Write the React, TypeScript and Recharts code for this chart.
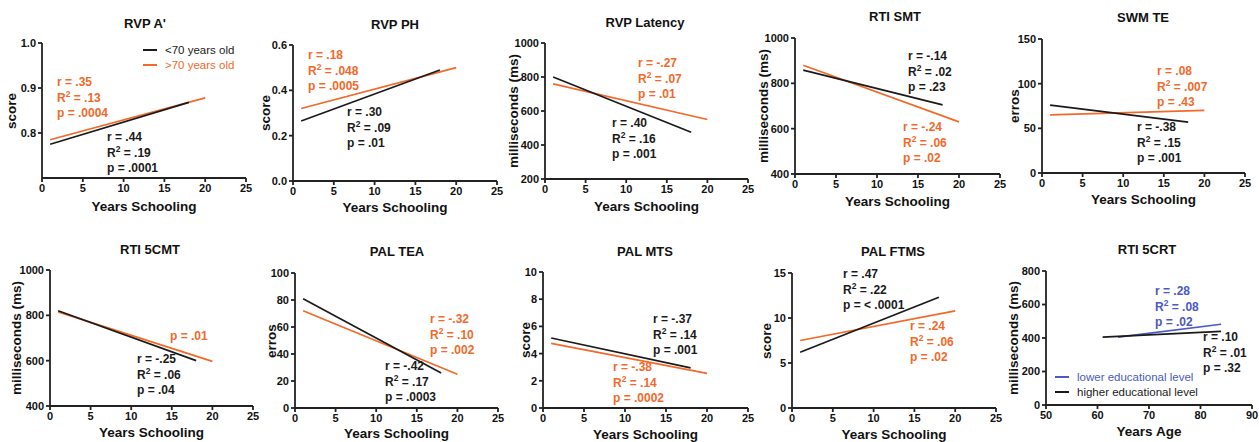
import React from 'react';
import { LineChart, Line, XAxis, YAxis } from 'recharts';

const FONT = '"Liberation Sans", Arial, Helvetica, sans-serif';
const ORANGE = '#f2692a';
const BLACK = '#1a1a1a';
const BLUE = '#4a59c4';

// x ranges of the regression lines
const youngX = [1, 18];
const oldX = [1, 20];
const lowerEduX = [64, 84];
const higherEduX = [61, 84];

// series end values (young = <70, old = >70)
const rvpAYoung = [0.775, 0.868];
const rvpAOld = [0.785, 0.878];
const rvpPhYoung = [0.265, 0.49];
const rvpPhOld = [0.32, 0.5];
const rvpLatYoung = [800, 475];
const rvpLatOld = [760, 550];
const smtYoung = [858, 705];
const smtOld = [880, 630];
const swmYoung = [76, 57];
const swmOld = [65, 70];
const cmtYoung = [820, 600];
const cmtOld = [815, 597];
const teaYoung = [81, 26];
const teaOld = [72, 25];
const mtsYoung = [5.15, 2.95];
const mtsOld = [4.75, 2.55];
const ftmsYoung = [6.2, 12.3];
const ftmsOld = [7.5, 10.8];
const crtLower = [405, 482];
const crtHigher = [405, 440];

const schoolTicks = [0, 5, 10, 15, 20, 25];
const ageTicks = [50, 60, 70, 80, 90];

const toPts = (xs: number[], ys: number[]) => xs.map((x, i) => ({ x, y: ys[i] }));

type Ann = { x: number; y: number; color: string; lines: string[] };

type PanelCfg = {
  title: string; titleX: number; titleY: number;
  x0: number; xEnd: number; yTop: number; yBot: number;
  xDomain: number[]; xTicks: number[]; yDomain: number[]; yTicks: number[];
  yFmt?: (v: number) => string;
  yLabel: string; yLabelX: number; xLabel: string; xLabelY: number;
  series: { pts: { x: number; y: number }[]; color: string }[];
  anns: Ann[];
};

const f1 = (v: number) => v.toFixed(1);

const panels: PanelCfg[] = [
  {
    title: "RVP A'", titleX: 145, titleY: 24, x0: 42, xEnd: 246, yTop: 43, yBot: 178,
    xDomain: [0, 25], xTicks: schoolTicks, yDomain: [0.7, 1.0], yTicks: [0.8, 0.9, 1.0], yFmt: f1,
    yLabel: 'score', yLabelX: 12, xLabel: 'Years Schooling', xLabelY: 207,
    series: [{ pts: toPts(oldX, rvpAOld), color: ORANGE }, { pts: toPts(youngX, rvpAYoung), color: BLACK }],
    anns: [
      { x: 57, y: 83, color: ORANGE, lines: ['r = .35', 'R2 = .13', 'p = .0004'] },
      { x: 107, y: 138, color: BLACK, lines: ['r = .44', 'R2 = .19', 'p = .0001'] },
    ],
  },
  {
    title: 'RVP PH', titleX: 395, titleY: 25, x0: 293, xEnd: 497, yTop: 45, yBot: 181,
    xDomain: [0, 25], xTicks: schoolTicks, yDomain: [0, 0.6], yTicks: [0, 0.2, 0.4, 0.6], yFmt: f1,
    yLabel: 'score', yLabelX: 266, xLabel: 'Years Schooling', xLabelY: 208,
    series: [{ pts: toPts(oldX, rvpPhOld), color: ORANGE }, { pts: toPts(youngX, rvpPhYoung), color: BLACK }],
    anns: [
      { x: 308, y: 56, color: ORANGE, lines: ['r = .18', 'R2 = .048', 'p = .0005'] },
      { x: 347, y: 113, color: BLACK, lines: ['r = .30', 'R2 = .09', 'p = .01'] },
    ],
  },
  {
    title: 'RVP Latency', titleX: 645, titleY: 23, x0: 545, xEnd: 748, yTop: 43, yBot: 179,
    xDomain: [0, 25], xTicks: schoolTicks, yDomain: [200, 1000], yTicks: [200, 400, 600, 800, 1000],
    yLabel: 'milliseconds (ms)', yLabelX: 514, xLabel: 'Years Schooling', xLabelY: 207,
    series: [{ pts: toPts(oldX, rvpLatOld), color: ORANGE }, { pts: toPts(youngX, rvpLatYoung), color: BLACK }],
    anns: [
      { x: 638, y: 64, color: ORANGE, lines: ['r = -.27', 'R2 = .07', 'p = .01'] },
      { x: 612, y: 124, color: BLACK, lines: ['r = .40', 'R2 = .16', 'p = .001'] },
    ],
  },
  {
    title: 'RTI SMT', titleX: 895, titleY: 17, x0: 795, xEnd: 1000, yTop: 38, yBot: 174,
    xDomain: [0, 25], xTicks: schoolTicks, yDomain: [400, 1000], yTicks: [400, 600, 800, 1000],
    yLabel: 'milliseconds (ms)', yLabelX: 764, xLabel: 'Years Schooling', xLabelY: 202,
    series: [{ pts: toPts(oldX, smtOld), color: ORANGE }, { pts: toPts(youngX, smtYoung), color: BLACK }],
    anns: [
      { x: 908, y: 57, color: BLACK, lines: ['r = -.14', 'R2 = .02', 'p = .23'] },
      { x: 903, y: 128, color: ORANGE, lines: ['r = -.24', 'R2 = .06', 'p = .02'] },
    ],
  },
  {
    title: 'SWM TE', titleX: 1143, titleY: 18, x0: 1042, xEnd: 1245, yTop: 39, yBot: 173,
    xDomain: [0, 25], xTicks: schoolTicks, yDomain: [0, 150], yTicks: [0, 50, 100, 150],
    yLabel: 'erros', yLabelX: 1015, xLabel: 'Years Schooling', xLabelY: 200,
    series: [{ pts: toPts(oldX, swmOld), color: ORANGE }, { pts: toPts(youngX, swmYoung), color: BLACK }],
    anns: [
      { x: 1157, y: 72, color: ORANGE, lines: ['r = .08', 'R2 = .007', 'p = .43'] },
      { x: 1137, y: 128, color: BLACK, lines: ['r = -.38', 'R2 = .15', 'p = .001'] },
    ],
  },
  {
    title: 'RTI 5CMT', titleX: 150, titleY: 250, x0: 50, xEnd: 253, yTop: 270, yBot: 406,
    xDomain: [0, 25], xTicks: schoolTicks, yDomain: [400, 1000], yTicks: [400, 600, 800, 1000],
    yLabel: 'milliseconds (ms)', yLabelX: 17, xLabel: 'Years Schooling', xLabelY: 433,
    series: [{ pts: toPts(oldX, cmtOld), color: ORANGE }, { pts: toPts(youngX, cmtYoung), color: BLACK }],
    anns: [
      { x: 170, y: 337, color: ORANGE, lines: ['p = .01'] },
      { x: 137, y: 360, color: BLACK, lines: ['r = -.25', 'R2 = .06', 'p = .04'] },
    ],
  },
  {
    title: 'PAL TEA', titleX: 397, titleY: 252, x0: 295, xEnd: 498, yTop: 273, yBot: 408,
    xDomain: [0, 25], xTicks: schoolTicks, yDomain: [0, 100], yTicks: [0, 20, 40, 60, 80, 100],
    yLabel: 'erros', yLabelX: 272, xLabel: 'Years Schooling', xLabelY: 434,
    series: [{ pts: toPts(oldX, teaOld), color: ORANGE }, { pts: toPts(youngX, teaYoung), color: BLACK }],
    anns: [
      { x: 430, y: 320, color: ORANGE, lines: ['r = -.32', 'R2 = .10', 'p = .002'] },
      { x: 385, y: 367, color: BLACK, lines: ['r = -.42', 'R2 = .17', 'p = .0003'] },
    ],
  },
  {
    title: 'PAL MTS', titleX: 645, titleY: 252, x0: 543, xEnd: 748, yTop: 272, yBot: 408,
    xDomain: [0, 25], xTicks: schoolTicks, yDomain: [0, 10], yTicks: [0, 2, 4, 6, 8, 10],
    yLabel: 'score', yLabelX: 526, xLabel: 'Years Schooling', xLabelY: 435,
    series: [{ pts: toPts(oldX, mtsOld), color: ORANGE }, { pts: toPts(youngX, mtsYoung), color: BLACK }],
    anns: [
      { x: 653, y: 320, color: BLACK, lines: ['r = -.37', 'R2 = .14', 'p = .001'] },
      { x: 613, y: 368, color: ORANGE, lines: ['r = -.38', 'R2 = .14', 'p = .0002'] },
    ],
  },
  {
    title: 'PAL FTMS', titleX: 893, titleY: 252, x0: 792, xEnd: 996, yTop: 273, yBot: 408,
    xDomain: [0, 25], xTicks: schoolTicks, yDomain: [0, 15], yTicks: [0, 5, 10, 15],
    yLabel: 'score', yLabelX: 767, xLabel: 'Years Schooling', xLabelY: 435,
    series: [{ pts: toPts(oldX, ftmsOld), color: ORANGE }, { pts: toPts(youngX, ftmsYoung), color: BLACK }],
    anns: [
      { x: 843, y: 275, color: BLACK, lines: ['r = .47', 'R2 = .22', 'p = < .0001'] },
      { x: 910, y: 327, color: ORANGE, lines: ['r = .24', 'R2 = .06', 'p = .02'] },
    ],
  },
  {
    title: 'RTI 5CRT', titleX: 1147, titleY: 250, x0: 1046, xEnd: 1252, yTop: 271, yBot: 405,
    xDomain: [50, 90], xTicks: ageTicks, yDomain: [0, 800], yTicks: [0, 200, 400, 600, 800],
    yLabel: 'milliseconds (ms)', yLabelX: 1014, xLabel: 'Years Age', xLabelY: 432,
    series: [{ pts: toPts(lowerEduX, crtLower), color: BLUE }, { pts: toPts(higherEduX, crtHigher), color: BLACK }],
    anns: [
      { x: 1155, y: 292, color: BLUE, lines: ['r = .28', 'R2 = .08', 'p = .02'] },
      { x: 1203, y: 338, color: BLACK, lines: ['r = .10', 'R2 = .01', 'p = .32'] },
    ],
  },
];

const legends = [
  { x: 143, y: 50, color: BLACK, text: '<70 years old' },
  { x: 143, y: 65, color: ORANGE, text: '>70 years old' },
  { x: 1055, y: 377, color: BLUE, text: 'lower educational level' },
  { x: 1055, y: 392, color: BLACK, text: 'higher educational level' },
];

const LH = 15.5;

function AnnLine({ s }: { s: string }) {
  if (s.startsWith('R2')) {
    return (
      <div>
        R<sup style={{ fontSize: 8.5, verticalAlign: 'super', lineHeight: 0 }}>2</sup>{s.slice(2)}
      </div>
    );
  }
  return <div>{s}</div>;
}

function Panel({ p }: { p: PanelCfg }) {
  const yAxisW = 36, mTop = 8, mRight = 12, xAxisH = 22;
  const plotW = p.xEnd - p.x0;
  const plotH = p.yBot - p.yTop;
  const width = plotW + yAxisW + mRight;
  const height = plotH + mTop + xAxisH;
  const tickStyle = { fontSize: 11, fontWeight: 700, fill: '#111', fontFamily: FONT };
  return (
    <>
      <div style={{ position: 'absolute', left: p.x0 - yAxisW, top: p.yTop - mTop }}>
        <LineChart width={width} height={height} margin={{ top: mTop, right: mRight, left: 0, bottom: 0 }}>
          <XAxis type="number" dataKey="x" domain={p.xDomain} ticks={p.xTicks} height={xAxisH}
            allowDataOverflow stroke="#222" strokeWidth={1.8} tick={tickStyle} tickSize={4} interval={0} />
          <YAxis type="number" dataKey="y" domain={p.yDomain} ticks={p.yTicks} width={yAxisW}
            allowDataOverflow stroke="#222" strokeWidth={1.8} tick={tickStyle} tickSize={4} interval={0}
            tickFormatter={p.yFmt} />
          {p.series.map((s, i) => (
            <Line key={i} data={s.pts} dataKey="y" type="linear" stroke={s.color} strokeWidth={1.7}
              dot={false} isAnimationActive={false} />
          ))}
        </LineChart>
      </div>
      <div style={{ position: 'absolute', left: p.titleX - 100, width: 200, top: p.titleY - 8, textAlign: 'center',
        fontSize: 13, fontWeight: 700, lineHeight: '16px' }}>{p.title}</div>
      <div style={{ position: 'absolute', left: (p.x0 + p.xEnd) / 2 - 100, width: 200, top: p.xLabelY - 9,
        textAlign: 'center', fontSize: 13.5, fontWeight: 700, lineHeight: '18px' }}>{p.xLabel}</div>
      <div style={{ position: 'absolute', left: p.yLabelX - 100, width: 200, top: (p.yTop + p.yBot) / 2 - 9,
        textAlign: 'center', fontSize: 13.5, fontWeight: 700, lineHeight: '18px', transform: 'rotate(-90deg)' }}>{p.yLabel}</div>
      {p.anns.map((a, i) => (
        <div key={i} style={{ position: 'absolute', left: a.x, top: a.y - LH / 2, color: a.color, fontSize: 12,
          fontWeight: 700, lineHeight: `${LH}px`, whiteSpace: 'nowrap' }}>
          {a.lines.map((l, j) => <AnnLine key={j} s={l} />)}
        </div>
      ))}
    </>
  );
}

export default function App() {
  return (
    <div style={{ position: 'absolute', left: 0, top: 0, width: 1259, height: 442, background: '#fff',
      fontFamily: FONT, color: '#111', overflow: 'hidden' }}>
      {panels.map((p, i) => <Panel key={i} p={p} />)}
      {legends.map((l, i) => (
        <div key={i} style={{ position: 'absolute', left: l.x, top: l.y - 8, height: 16, display: 'flex', alignItems: 'center',
          whiteSpace: 'nowrap', fontSize: 11.5, color: l.color }}>
          <div style={{ width: 14, height: 1.7, background: l.color, marginRight: 8 }} />
          <span>{l.text}</span>
        </div>
      ))}
    </div>
  );
}
